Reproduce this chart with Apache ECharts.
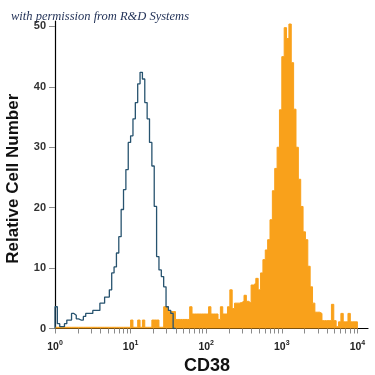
<!DOCTYPE html>
<html><head><meta charset="utf-8">
<script src="https://cdn.jsdelivr.net/npm/echarts@6/dist/echarts.min.js"></script>
<style>html,body{margin:0;padding:0;background:#fff}#c{width:375px;height:375px}</style>
</head><body><div id="c"></div>
<script>
// x positions are log10(fluorescence), i.e. decades; 32 channels per decade
const decadeValues = [0, 1, 2, 3, 4];
const decadeExponents = ['0', '1', '2', '3', '4'];
const yTickValues = [0, 10, 20, 30, 40, 50];
const binsPerDecade = 32;
const xTitle = 'CD38';
const yTitle = 'Relative Cell Number';
const credit = 'with permission from R&D Systems';

// isotype control (blue outline), channels 0..50
const blueCounts = [
  3.6, 0.8, 0.3, 0.3, 0.8, 1.4, 1.4, 2.5, 2.2, 1.6,
  1.4, 1.4, 2.0, 2.5, 2.5, 2.5, 3.0, 3.0, 3.0, 4.2,
  4.2, 5.2, 5.2, 6.4, 9.2, 10.2, 12.5, 15.2, 19.7, 23.0,
  26.3, 30.8, 31.9, 34.7, 37.4, 40.5, 42.4, 41.3, 37.4, 34.7,
  30.8, 26.9, 20.2, 11.9, 9.7, 8.6, 6.9, 3.6, 3.0, 2.5,
  0
];

// CD38 stained (orange filled), channels 0..127
const orangeCounts = [
  0.2, 0.2, 0.2, 0.2, 0.2, 0.2, 0.2, 0.2, 0.2, 0.2,
  0.2, 0.2, 0.2, 0.2, 0.2, 0.2, 0.2, 0.2, 0.2, 0.2,
  0.2, 0.2, 0.2, 0.2, 0.2, 0.2, 0.2, 0.2, 0.2, 0.2,
  0.2, 0.2, 1.4, 0.2, 0.2, 1.4, 0.2, 1.4, 0.2, 0.2,
  0.2, 1.4, 1.4, 1.4, 0.2, 0.2, 3.6, 3.6, 2.8, 2.8,
  2.8, 1.5, 1.5, 1.5, 1.5, 1.5, 1.5, 3.6, 2.4, 2.4,
  2.4, 2.4, 2.4, 2.4, 2.4, 3.6, 2.4, 2.4, 2.4, 1.5,
  3.6, 2.4, 2.4, 3.6, 6.4, 3.3, 4.2, 4.2, 4.3, 4.5,
  5.5, 4.5, 4.2, 7.2, 7.5, 8.3, 6.4, 9.2, 11.4, 13.0,
  14.7, 18.0, 22.8, 26.5, 30.0, 36.2, 45.0, 49.8, 48.0, 50.4,
  44.0, 36.3, 30.0, 24.7, 20.2, 16.0, 14.7, 10.3, 6.9, 4.2,
  2.7, 2.7, 2.5, 1.3, 1.3, 1.3, 1.3, 4.0, 1.3, 0.3,
  1.1, 2.5, 1.1, 1.1, 2.5, 1.1, 1.1, 1.1
];

function stepPoints(counts, closeStart) {
  const pts = [];
  if (closeStart) pts.push([0, 0]);
  counts.forEach((c, i) => pts.push([i / binsPerDecade, c]));
  const end = counts.length / binsPerDecade;
  pts.push([end, counts[counts.length - 1]]);
  pts.push([end, 0]);
  return pts;
}

// log-decade tick marks: 1..9 within each decade
const xTickValues = [];
for (let d = 0; d < 4; d++) for (let k = 1; k <= 9; k++) xTickValues.push(d + Math.log10(k));
xTickValues.push(4);

const chart = echarts.init(document.getElementById('c'), null, { renderer: 'canvas' });
chart.setOption({
  animation: false,
  backgroundColor: '#fff',
  grid: { left: 55, right: 7, top: 21, bottom: 46.5, containLabel: false, outerBoundsMode: 'none' },
  graphic: [{
    type: 'text', left: 11, top: 10,
    style: { text: credit, font: 'italic 12.5px "Liberation Serif", serif', fill: '#1f2f55' }
  }],
  xAxis: {
    type: 'value', min: 0, max: 4.14,
    splitLine: { show: false },
    axisLine: { onZero: false, lineStyle: { color: '#000', width: 1.2 } },
    axisTick: { customValues: xTickValues, length: 5, lineStyle: { color: '#8a8a8a', width: 1 } },
    axisLabel: {
      customValues: decadeValues,
      formatter: v => '{b|10}{s|' + decadeExponents[Math.round(v)] + '}',
      margin: 11,
      rich: {
        b: { fontFamily: 'Liberation Sans', fontSize: 10.5, fontWeight: 'bold', color: '#222', lineHeight: 13, verticalAlign: 'bottom' },
        s: { fontFamily: 'Liberation Sans', fontSize: 7, fontWeight: 'bold', color: '#222', lineHeight: 8, verticalAlign: 'top' }
      }
    },
    name: xTitle, nameLocation: 'middle', nameGap: 25,
    nameTextStyle: { fontFamily: 'Liberation Sans', fontSize: 18, fontWeight: 'bold', color: '#111', padding: [0, 9, 0, 0] }
  },
  yAxis: {
    type: 'value', min: 0, max: 50.9,
    splitLine: { show: false },
    axisLine: { show: true, lineStyle: { color: '#000', width: 1.2 } },
    axisTick: { show: true, customValues: yTickValues, length: 6, lineStyle: { color: '#8a8a8a', width: 1 } },
    axisLabel: {
      customValues: yTickValues,
      fontFamily: 'Liberation Sans', fontSize: 11, fontWeight: 'bold', color: '#333', margin: 9
    },
    name: yTitle, nameLocation: 'middle', nameGap: 33,
    nameTextStyle: { fontFamily: 'Liberation Sans', fontSize: 17, fontWeight: 'bold', color: '#111', padding: [0, 8, 0, 0] }
  },
  series: [
    {
      type: 'line', step: 'end', symbol: 'none', silent: true, z: 2,
      data: stepPoints(orangeCounts, false),
      lineStyle: { color: '#F9A11B', width: 1 },
      areaStyle: { color: '#F9A11B', opacity: 1 }
    },
    {
      type: 'line', step: 'end', symbol: 'none', silent: true, z: 3,
      data: stepPoints(blueCounts, true),
      lineStyle: { color: '#27536f', width: 1.3 }
    }
  ]
});
</script>
</body></html>
